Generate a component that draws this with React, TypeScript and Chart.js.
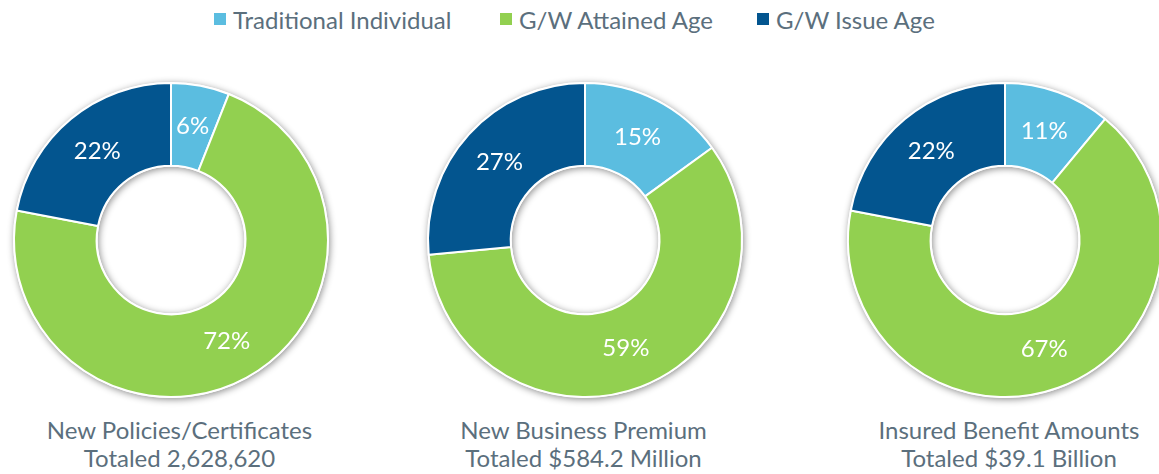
import React, { useEffect, useRef } from "react";
import { Chart, registerables } from "chart.js";

Chart.register(...registerables);

const seriesNames = ["Traditional Individual", "G/W Attained Age", "G/W Issue Age"];
const seriesColors = ["#5bbde0", "#92d050", "#03558f"];

const policiesShare = [6, 72, 22];
const premiumShare = [15, 58.5, 26.5];
const benefitShare = [11, 67, 22];

const captionsLine1 = ["New Policies/Certificates", "New Business Premium", "Insured Benefit Amounts"];
const captionsLine2 = ["Totaled 2,628,620", "Totaled $584.2 Million", "Totaled $39.1 Billion"];

const centersX = [170.5, 584.5, 1005];
const captionCentersX = [179.5, 583.5, 1009];
const CENTER_Y = 240;
const OUTER_R = 157;
const INNER_R = 80;
const CANVAS = 340;

const FONT = "Lato, 'Open Sans', sans-serif";
const TEXT_COLOR = "#5b6f7d";

const shadowPlugin = {
  id: "ringShadow",
  beforeDatasetsDraw(chart: any) {
    const meta = chart.getDatasetMeta(0);
    const arc = meta.data[0];
    if (!arc) return;
    const { x, y, outerRadius, innerRadius } = arc.getProps(["x", "y", "outerRadius", "innerRadius"], true);
    const ctx = chart.ctx;
    ctx.save();
    ctx.shadowColor = "rgba(0,0,0,0.45)";
    ctx.shadowBlur = 7;
    ctx.shadowOffsetX = 1;
    ctx.shadowOffsetY = 1.5;
    ctx.fillStyle = "#ffffff";
    ctx.beginPath();
    ctx.arc(x, y, outerRadius + 1, 0, Math.PI * 2);
    ctx.arc(x, y, Math.max(innerRadius - 1, 0), 0, Math.PI * 2, true);
    ctx.closePath();
    ctx.fill();
    ctx.restore();
  },
};

const labelPlugin = {
  id: "pctLabels",
  afterDatasetsDraw(chart: any) {
    const ctx = chart.ctx;
    const ds = chart.data.datasets[0];
    const meta = chart.getDatasetMeta(0);
    ctx.save();
    ctx.fillStyle = "#ffffff";
    ctx.font = `24px ${FONT}`;
    ctx.textAlign = "center";
    ctx.textBaseline = "middle";
    meta.data.forEach((arc: any, i: number) => {
      const p = arc.tooltipPosition(true);
      ctx.fillText(`${Math.round(ds.data[i])}%`, p.x, p.y);
    });
    ctx.restore();
  },
};

function Donut({ values, cx }: { values: number[]; cx: number }) {
  const ref = useRef<HTMLCanvasElement>(null);
  useEffect(() => {
    if (!ref.current) return;
    const chart = new Chart(ref.current, {
      type: "doughnut",
      data: {
        labels: seriesNames,
        datasets: [
          {
            data: values,
            backgroundColor: seriesColors,
            borderColor: "#ffffff",
            borderWidth: 2,
          },
        ],
      },
      options: {
        animation: false,
        responsive: false,
        radius: OUTER_R,
        cutout: INNER_R,
        layout: { padding: 0 },
        plugins: { legend: { display: false }, tooltip: { enabled: false } },
        events: [],
      } as any,
      plugins: [shadowPlugin, labelPlugin],
    });
    return () => chart.destroy();
  }, [values]);
  return (
    <canvas
      ref={ref}
      width={CANVAS}
      height={CANVAS}
      style={{
        position: "absolute",
        left: cx - CANVAS / 2,
        top: CENTER_Y - CANVAS / 2,
        width: CANVAS,
        height: CANVAS,
      }}
    />
  );
}

const legendSquareX = [214, 500, 757];

export default function App() {
  const allValues = [policiesShare, premiumShare, benefitShare];
  return (
    <div
      style={{
        position: "fixed",
        left: 0,
        top: 0,
        width: 1159,
        height: 474,
        overflow: "hidden",
        background: "#ffffff",
        fontFamily: FONT,
        color: TEXT_COLOR,
      }}
    >
      {seriesNames.map((name, i) => (
        <div
          key={name}
          style={{ position: "absolute", left: legendSquareX[i], top: 4, height: 30, display: "flex", alignItems: "center", whiteSpace: "nowrap" }}
        >
          <span style={{ display: "inline-block", width: 12, height: 12, background: seriesColors[i], marginRight: 7 }} />
          <span style={{ fontSize: 24 }}>{name}</span>
        </div>
      ))}
      {allValues.map((v, i) => (
        <Donut key={i} values={v} cx={centersX[i]} />
      ))}
      {captionsLine1.map((t, i) => (
        <div
          key={t}
          style={{
            position: "absolute",
            left: captionCentersX[i] - 200,
            width: 400,
            top: 416,
            textAlign: "center",
            fontSize: 24,
            lineHeight: "28px",
            whiteSpace: "nowrap",
          }}
        >
          <div>{t}</div>
          <div>{captionsLine2[i]}</div>
        </div>
      ))}
    </div>
  );
}
